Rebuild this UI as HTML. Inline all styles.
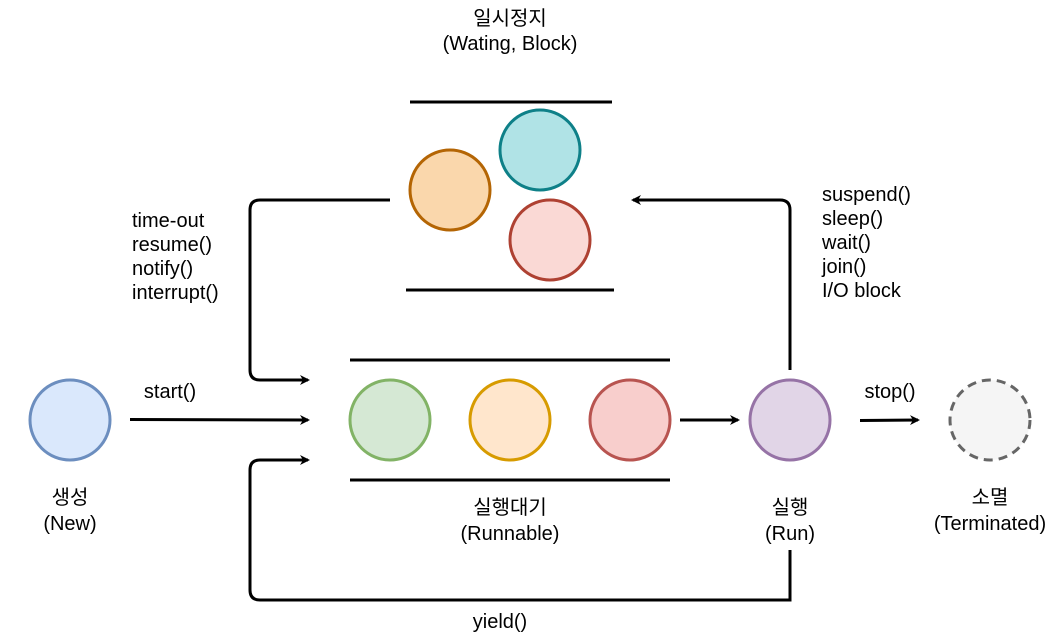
<!DOCTYPE html>
<html><head><meta charset="utf-8"><style>
html,body{margin:0;padding:0;background:#fff;}
svg{display:block;}
text{font-family:"Liberation Sans","Noto Sans CJK KR",sans-serif;font-size:20px;fill:#000;}
</style></head><body>
<svg width="1061" height="633" viewBox="0 0 1061 633" xmlns="http://www.w3.org/2000/svg">
<defs><marker id="a" markerWidth="10" markerHeight="10" refX="8" refY="5" orient="auto" markerUnits="userSpaceOnUse"><path d="M0,0 L10,5 L0,10 L3,5 Z" fill="#000"/></marker></defs>
<g stroke="#000" stroke-width="3" fill="none">
<line x1="410" y1="102" x2="612" y2="102"/>
<line x1="406" y1="290" x2="614" y2="290"/>
<line x1="350" y1="360" x2="670" y2="360"/>
<line x1="350" y1="480" x2="670" y2="480"/>
<line x1="130" y1="419.5" x2="308" y2="420" marker-end="url(#a)"/>
<line x1="680" y1="420" x2="738" y2="420" marker-end="url(#a)"/>
<line x1="860" y1="420.5" x2="918" y2="420" marker-end="url(#a)"/>
<path d="M790,370 V210 Q790,200 780,200 H633" marker-end="url(#a)"/>
<path d="M390,200 H260 Q250,200 250,210 V370 Q250,380 260,380 H308" marker-end="url(#a)"/>
<path d="M790,550 V600 H260 Q250,600 250,590 V470 Q250,460 260,460 H308" marker-end="url(#a)"/>
</g>
<g stroke-width="3">
<circle cx="70" cy="420" r="40" fill="#dae8fc" stroke="#6c8ebf"/>
<circle cx="390" cy="420" r="40" fill="#d5e8d4" stroke="#82b366"/>
<circle cx="510" cy="420" r="40" fill="#ffe6cc" stroke="#d79b00"/>
<circle cx="630" cy="420" r="40" fill="#f8cecc" stroke="#b85450"/>
<circle cx="790" cy="420" r="40" fill="#e1d5e7" stroke="#9673a6"/>
<circle cx="990" cy="420" r="40" fill="#f5f5f5" stroke="#666" stroke-dasharray="9 6"/>
<circle cx="450" cy="190" r="40" fill="#fad7ac" stroke="#b46504"/>
<circle cx="540" cy="150" r="40" fill="#b0e3e6" stroke="#0e8088"/>
<circle cx="550" cy="240" r="40" fill="#fad9d5" stroke="#ae4132"/>
</g>
<g text-anchor="middle">
<text x="510" y="25">일시정지</text>
<text x="510" y="50">(Wating, Block)</text>
<text x="70" y="504">생성</text>
<text x="70" y="530">(New)</text>
<text x="510" y="514">실행대기</text>
<text x="510" y="540">(Runnable)</text>
<text x="790" y="514">실행</text>
<text x="790" y="540">(Run)</text>
<text x="990" y="504">소멸</text>
<text x="990" y="530">(Terminated)</text>
<text x="170" y="398">start()</text>
<text x="890" y="398">stop()</text>
<text x="500" y="628">yield()</text>
</g>
<text x="132" y="227">time-out</text>
<text x="132" y="251">resume()</text>
<text x="132" y="275">notify()</text>
<text x="132" y="299">interrupt()</text>
<text x="822" y="201">suspend()</text>
<text x="822" y="225">sleep()</text>
<text x="822" y="249">wait()</text>
<text x="822" y="273">join()</text>
<text x="822" y="297">I/O block</text>
</svg>
</body></html>
